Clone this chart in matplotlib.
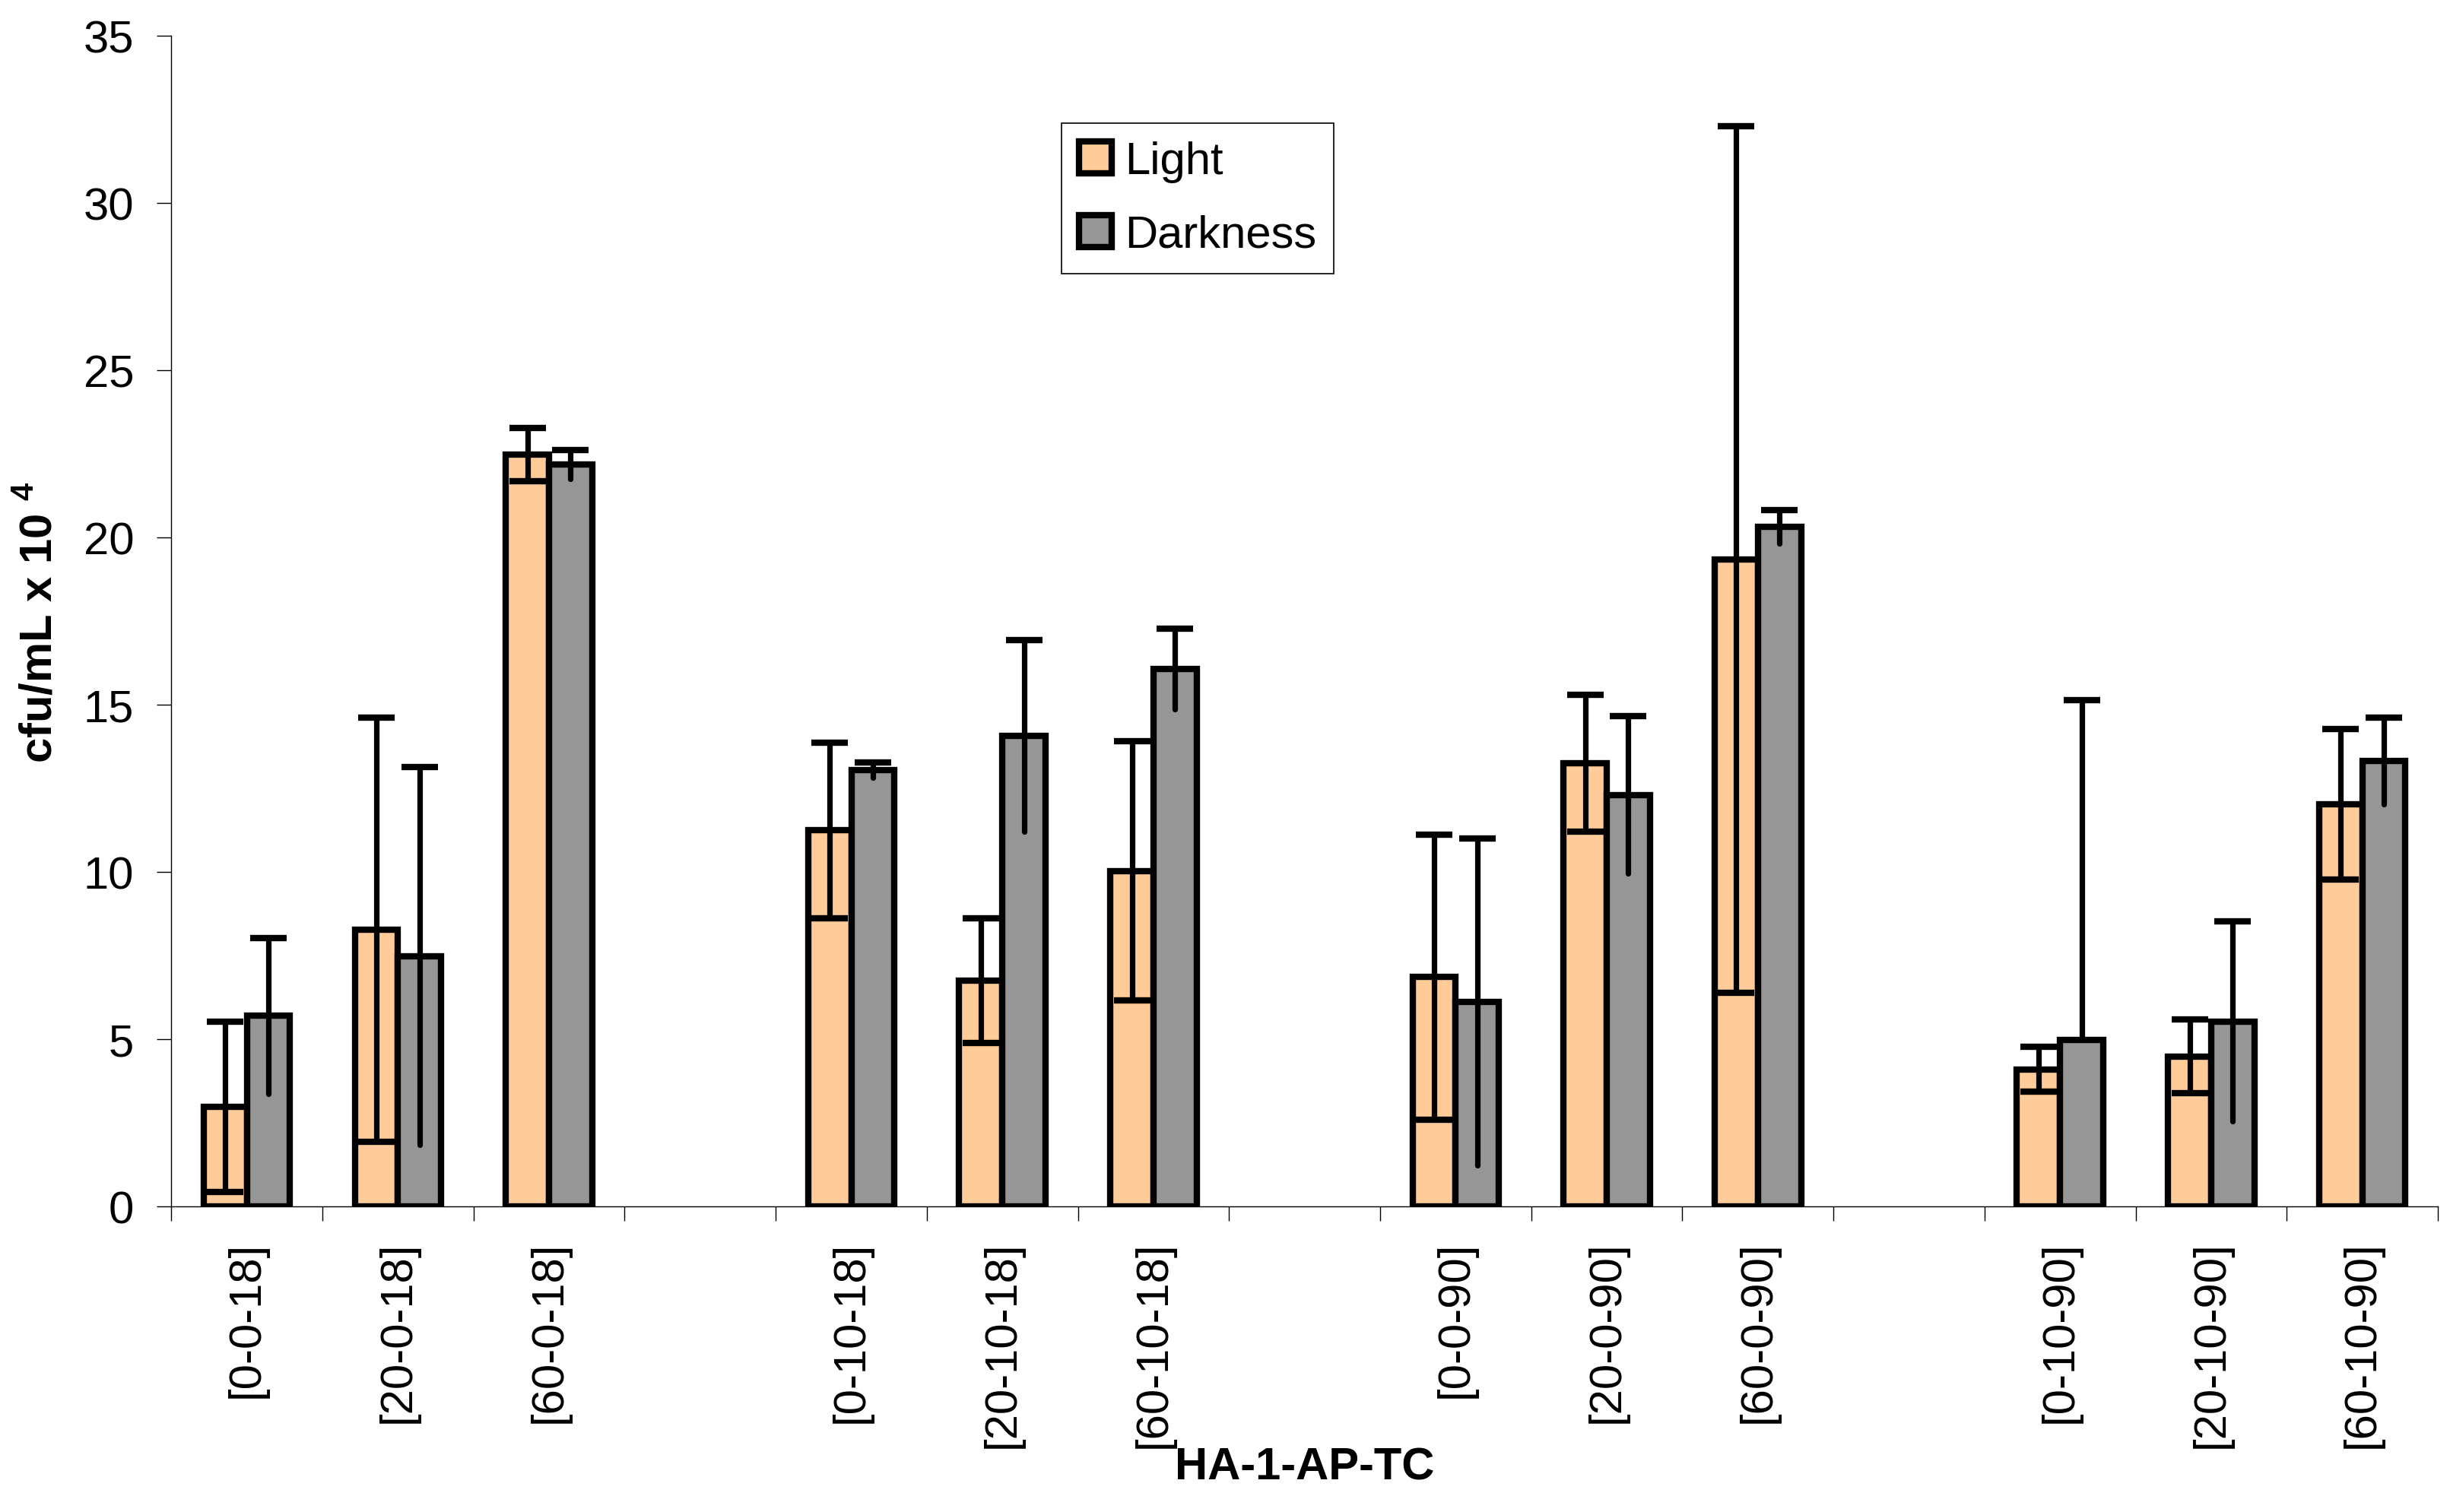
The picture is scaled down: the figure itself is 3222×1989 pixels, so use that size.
import numpy as np
import matplotlib.pyplot as plt

plt.rcParams['font.family'] = 'Liberation Sans'
plt.rcParams['mathtext.fontset'] = 'custom'
plt.rcParams['mathtext.rm'] = 'Liberation Sans'
plt.rcParams['mathtext.bf'] = 'Liberation Sans:bold'

# categories (empty strings are the gaps between the four blocks)
categories = ['[0-0-18]', '[20-0-18]', '[60-0-18]', '',
              '[0-10-18]', '[20-10-18]', '[60-10-18]', '',
              '[0-0-90]', '[20-0-90]', '[60-0-90]', '',
              '[0-10-90]', '[20-10-90]', '[60-10-90]']

nan = np.nan
light = np.array([2.98, 8.28, 22.48, nan, 11.25, 6.75, 10.04, nan,
                  6.86, 13.25, 19.35, nan, 4.10, 4.49, 12.03])
light_err = np.array([2.55, 6.35, 0.80, nan, 2.63, 1.86, 3.87, nan,
                      4.27, 2.05, 12.95, nan, 0.67, 1.10, 2.26])
dark = np.array([5.70, 7.49, 22.19, nan, 13.05, 14.08, 16.08, nan,
                 6.12, 12.31, 20.32, nan, 4.99, 5.54, 13.32])
dark_err = np.array([2.32, 5.65, 0.44, nan, 0.23, 2.86, 1.20, nan,
                     4.88, 2.35, 0.50, nan, 10.15, 2.98, 1.30])

col_light = '#FFCC99'
col_dark = '#969696'

fig = plt.figure(figsize=(16.11, 9.95), dpi=200)
ax = fig.add_axes([0.06993, 0.20186, 0.92511, 0.77387])

x = np.arange(len(categories))
m = ~np.isnan(light)
w = 0.2857

# bars
b1 = ax.bar(x[m] - w / 2, light[m], w, color=col_light, edgecolor='black',
            linewidth=3, label='Light', zorder=2)
b2 = ax.bar(x[m] + w / 2, dark[m], w, color=col_dark, edgecolor='black',
            linewidth=3, label='Darkness', zorder=2)

# error bars - light: both ends capped
ax.errorbar(x[m] - w / 2, light[m], yerr=light_err[m], fmt='none', ecolor='black',
            elinewidth=2.6, capsize=8.5, capthick=3, zorder=3)

# error bars - darkness: cap on top only, lower part dropped if below axis
xd = x[m] + w / 2
low = np.where(dark[m] - dark_err[m] >= 0, dark[m] - dark_err[m], dark[m])
ax.vlines(xd, low, dark[m] + dark_err[m], colors='black', linewidth=2.6,
          capstyle='round', zorder=3)
ax.plot(xd, dark[m] + dark_err[m], ls='none', marker='_', ms=17, mew=3,
        color='black', zorder=3)

ax.set_xlim(-0.5, len(categories) - 0.5)
ax.set_ylim(0, 35)
ax.set_yticks(np.arange(0, 36, 5))

ax.set_xticks(x)
ax.set_xticklabels(categories, rotation=90)
ax.set_xticks(np.arange(-0.5, len(categories), 1), minor=True)
ax.tick_params(axis='x', which='major', length=0, pad=16, labelsize=21.5)
ax.tick_params(axis='x', which='minor', length=6.84, width=0.5, direction='out')
ax.tick_params(axis='y', length=6.84, width=0.5, direction='out', pad=10.8,
               labelsize=21.5)

for s in ['top', 'right']:
    ax.spines[s].set_visible(False)
for s in ['left', 'bottom']:
    ax.spines[s].set_linewidth(0.5)

ax.set_xlabel('HA-1-AP-TC', fontsize=21.5, fontweight='bold')
ax.xaxis.set_label_coords(0.5, -0.2044)
ax.set_ylabel(r'cfu/mL x 10 $^{\mathbf{4}}$', fontsize=21.5, fontweight='bold')
ax.yaxis.set_label_coords(-0.04875, 0.5)

leg = ax.legend(loc='upper left', bbox_to_anchor=(0.3927, 0.9253), fontsize=21.5,
                fancybox=False, framealpha=1, edgecolor='black',
                handlelength=0.72, handleheight=0.72, handletextpad=0.3,
                labelspacing=0.7, borderpad=0.38, borderaxespad=0)
leg.get_frame().set_linewidth(0.6)

fig.savefig('out.png', dpi=200)
